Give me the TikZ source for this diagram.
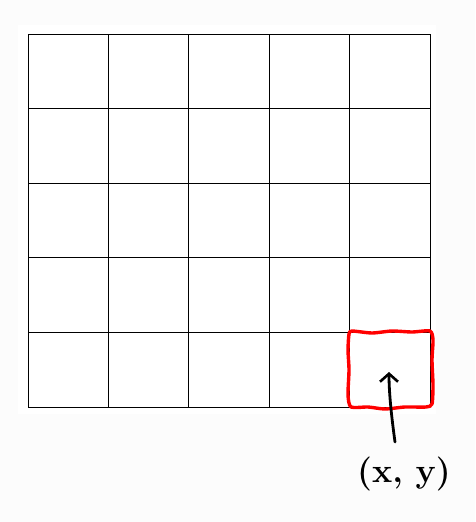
\documentclass[tikz,border=0pt]{standalone}
\usetikzlibrary{arrows.meta}
\begin{document}
\begin{tikzpicture}[x=1pt,y=-1pt,
  gridline/.style={draw=black,line width=0.8pt},
  redbox/.style={draw=red,line width=3.4pt,line join=round},
  pointer/.style={draw=black,line width=2.8pt,line cap=round,-{Straight Barb[length=8pt,width=18pt,line width=2.6pt]}},
  lbl/.style={font=\fontsize{34}{40}\selectfont\bfseries,inner sep=0pt}]
\useasboundingbox (0,0) rectangle (475,522);
\fill[gray!2] (0,0) rectangle (475,522);
\fill[white] (18,25) rectangle (436,414);
% grid
\foreach \x in {28,108.4,188.8,269.2,349.6,430} \draw[gridline] (\x,34) -- (\x,407);
\foreach \y in {34,108.6,183.2,257.8,332.4,407} \draw[gridline] (28,\y) -- (430,\y);
% red hand-drawn box
\draw[redbox] plot[smooth cycle,tension=0.4] coordinates {
  (352,331) (372,333) (392,331) (412,332) (430,331) (433,340) (432,360) (433,385) (432,404)
  (426,407) (405,407) (385,409) (368,407) (351,407) (348,395) (349,370) (348,350) (349,334)};
\coordinate (tip) at (389,372);
\coordinate (tail) at (395,442);
\node[lbl] (label) at (404,474) {(x, y)};
\draw[pointer] (tail) .. controls (392,420) and (389,395) .. (tip);
\end{tikzpicture}
\end{document}
